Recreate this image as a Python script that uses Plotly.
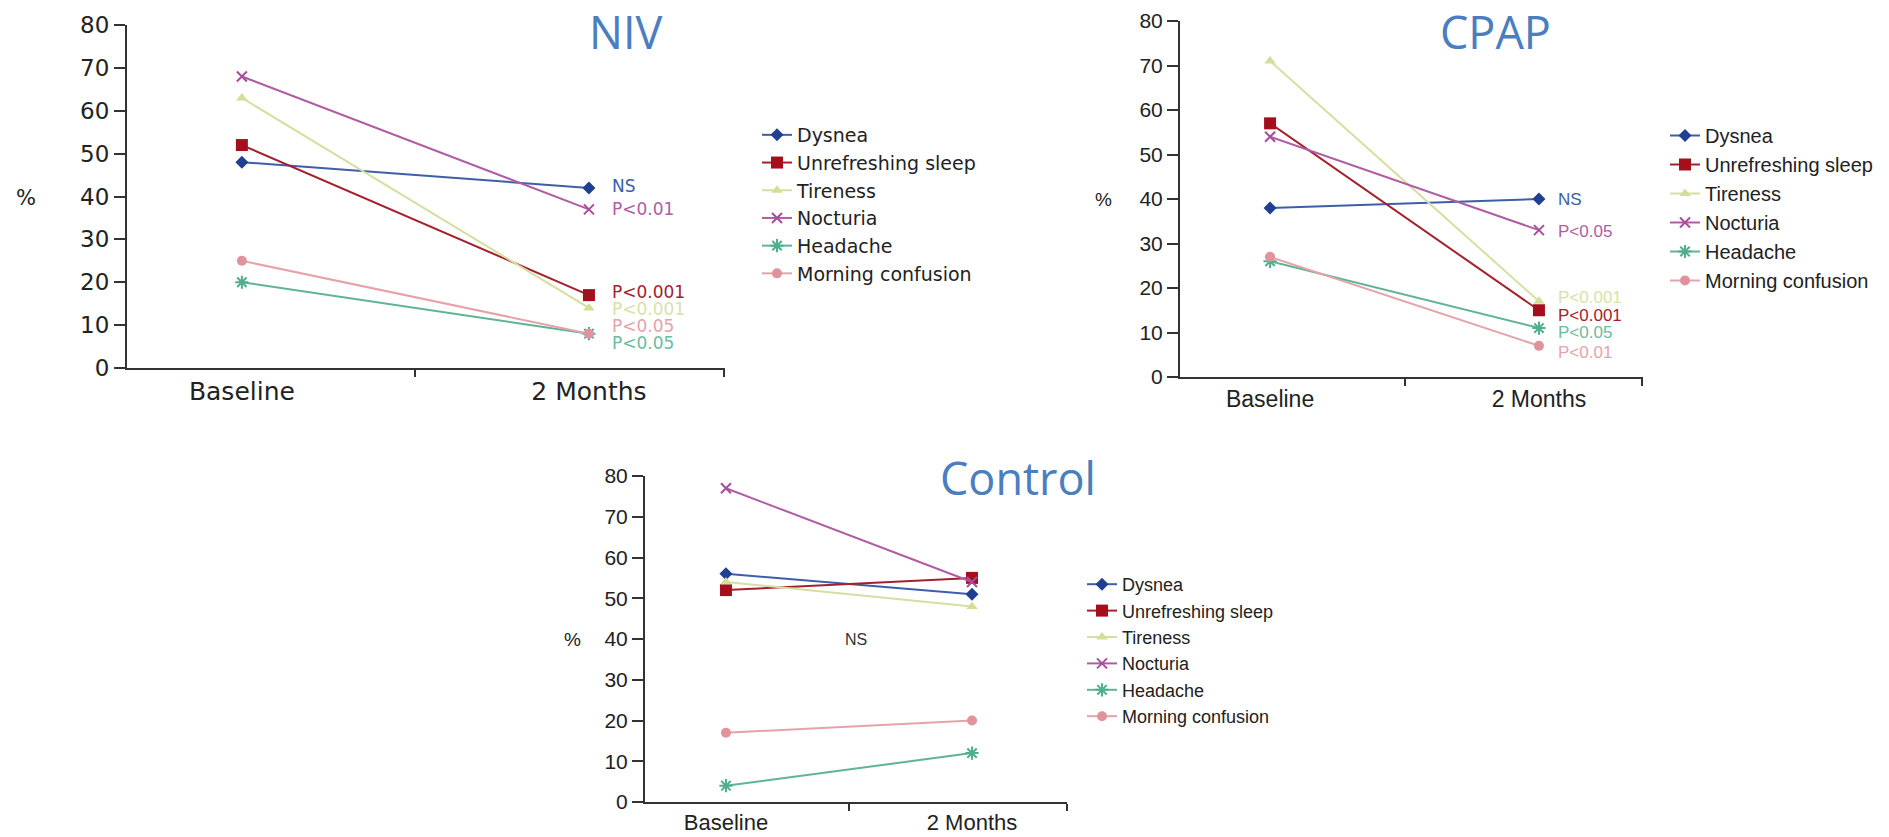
import plotly.graph_objects as go

W, H = 1889, 837

# ---------------- data ----------------
categories = ["Baseline", "2 Months"]
symptoms = ["Dysnea", "Unrefreshing sleep", "Tireness", "Nocturia", "Headache", "Morning confusion"]

niv_baseline = [48, 52, 63, 68, 20, 25]
niv_2months = [42, 17, 14, 37, 8, 8]
cpap_baseline = [38, 57, 71, 54, 26, 27]
cpap_2months = [40, 15, 17, 33, 11, 7]
control_baseline = [56, 52, 54, 77, 4, 17]
control_2months = [51, 55, 48, 54, 12, 20]

niv_pvalues = ["NS", "P<0.001", "P<0.001", "P<0.01", "P<0.05", "P<0.05"]
cpap_pvalues = ["NS", "P<0.001", "P<0.001", "P<0.05", "P<0.05", "P<0.01"]
control_pvalue = "NS"

y_tick_values = [0, 10, 20, 30, 40, 50, 60, 70, 80]

# ---------------- styles ----------------
line_colors = ["#3d5ea8", "#a3212c", "#d5dfa0", "#b05ca3", "#5fb396", "#e6a2aa"]
marker_colors = ["#1f3f91", "#a50f1d", "#d3de98", "#a84c9b", "#4fae8c", "#e0939d"]
symbols = ["diamond", "square", "triangle-up", "x-thin-open", "asterisk-open", "circle"]
msizes = [10, 12, 10, 10, 11, 10]
label_colors = ["#3d5ea8", "#a3212c", "#d9e2a8", "#b05ca3", "#6cbba0", "#e6a2aa"]
title_color = "#4a7ebf"
axis_color = "#333333"
text_color = "#222222"

panels = [
    dict(name="NIV", base=niv_baseline, m2=niv_2months, pv=niv_pvalues,
         px=(127, 725), py=(25, 368), xr=(-0.331, 1.392),
         font="DejaVu Sans", tickfs=23, catfs=25, legfs=19, pfs=17,
         legend=(757, 116), title=(625, 32), pct=(26, 198),
         plabel_x=1.06, plabel_y=[42.4, 17.7, 13.8, 37.1, 5.8, 9.8]),
    dict(name="CPAP", base=cpap_baseline, m2=cpap_2months, pv=cpap_pvalues,
         px=(1180, 1643), py=(21, 377), xr=(-0.335, 1.387),
         font="Liberation Sans", tickfs=21, catfs=23, legfs=20, pfs=17,
         legend=(1665, 116), title=(1495, 32), pct=(1103, 199),
         plabel_x=1.063, plabel_y=[40.0, 13.9, 17.8, 32.6, 10.1, 5.6]),
    dict(name="Control", base=control_baseline, m2=control_2months, pv=None,
         px=(645, 1067), py=(476, 802), xr=(-0.329, 1.386),
         font="Liberation Sans", tickfs=21, catfs=22, legfs=18, pfs=16,
         legend=(1082, 566), title=(1018, 477), pct=(572, 639),
         ns_pos=(0.53, 39.8)),
]

fig = go.Figure()
annotations = []
xs = list(range(len(categories)))

for i, p in enumerate(panels):
    sfx = "" if i == 0 else str(i + 1)
    xa, ya = "x" + sfx, "y" + sfx
    leg = "legend" + sfx
    for k, s in enumerate(symptoms):
        mk = dict(symbol=symbols[k], size=msizes[k], color=marker_colors[k])
        if symbols[k].endswith("-open"):
            mk["line"] = dict(color=marker_colors[k], width=2)
        fig.add_trace(go.Scatter(
            x=xs, y=[p["base"][k], p["m2"][k]], name=s, mode="lines+markers",
            line=dict(color=line_colors[k], width=2), marker=mk,
            xaxis=xa, yaxis=ya, legend=leg, showlegend=True, hoverinfo="skip"))

    x0, x1 = p["px"]
    ytop, ybot = p["py"]
    layout_xa = dict(
        domain=[x0 / W, x1 / W], range=list(p["xr"]), anchor=ya, automargin=False,
        showgrid=False, zeroline=False, showline=True, linecolor=axis_color, linewidth=2,
        tickmode="array", tickvals=xs, ticktext=categories, ticks="",
        tickfont=dict(family=p["font"], size=p["catfs"], color=text_color),
        minor=dict(tickmode="array", tickvals=[0.5, p["xr"][1] - 0.002], ticks="outside",
                   ticklen=7, tickwidth=2, tickcolor=axis_color, showgrid=False),
        fixedrange=True)
    layout_ya = dict(
        domain=[1 - ybot / H, 1 - ytop / H], range=[0, 80], anchor=xa, automargin=False,
        showgrid=False, zeroline=False, showline=True, linecolor=axis_color, linewidth=2,
        tickmode="array", tickvals=y_tick_values, ticks="outside", ticklen=11, tickwidth=2,
        tickcolor=axis_color,
        tickfont=dict(family=p["font"], size=p["tickfs"], color=text_color),
        fixedrange=True)
    fig.update_layout(**{"xaxis" + sfx: layout_xa, "yaxis" + sfx: layout_ya})

    lx, ly = p["legend"]
    fig.update_layout(**{leg: dict(
        x=lx / W, y=1 - ly / H, xanchor="left", yanchor="top",
        font=dict(family=p["font"], size=p["legfs"], color=text_color),
        bgcolor="rgba(0,0,0,0)", borderwidth=0, tracegroupgap=0, itemwidth=30)})

    tx, ty = p["title"]
    annotations.append(dict(text=p["name"], xref="paper", yref="paper", x=tx / W, y=1 - ty / H,
                            xanchor="center", yanchor="middle", showarrow=False,
                            font=dict(family="Open Sans", size=45, color=title_color)))
    cx, cy = p["pct"]
    annotations.append(dict(text="%", xref="paper", yref="paper", x=cx / W, y=1 - cy / H,
                            xanchor="center", yanchor="middle", showarrow=False,
                            font=dict(family=p["font"], size=p["tickfs"] - 2, color=text_color)))
    if p["pv"] is not None:
        for k, lab in enumerate(p["pv"]):
            annotations.append(dict(text=lab, xref=xa, yref=ya, x=p["plabel_x"], y=p["plabel_y"][k],
                                    xanchor="left", yanchor="middle", showarrow=False,
                                    font=dict(family=p["font"], size=p["pfs"], color=label_colors[k])))
    else:
        nx, ny = p["ns_pos"]
        annotations.append(dict(text=control_pvalue, xref=xa, yref=ya, x=nx, y=ny,
                                xanchor="center", yanchor="middle", showarrow=False,
                                font=dict(family=p["font"], size=p["pfs"], color="#333333")))

fig.update_layout(width=W, height=H, margin=dict(l=0, r=0, t=0, b=0, autoexpand=False),
                  paper_bgcolor="white", plot_bgcolor="white",
                  annotations=annotations, showlegend=True)

fig.write_html("out.html", config={"displayModeBar": False})
